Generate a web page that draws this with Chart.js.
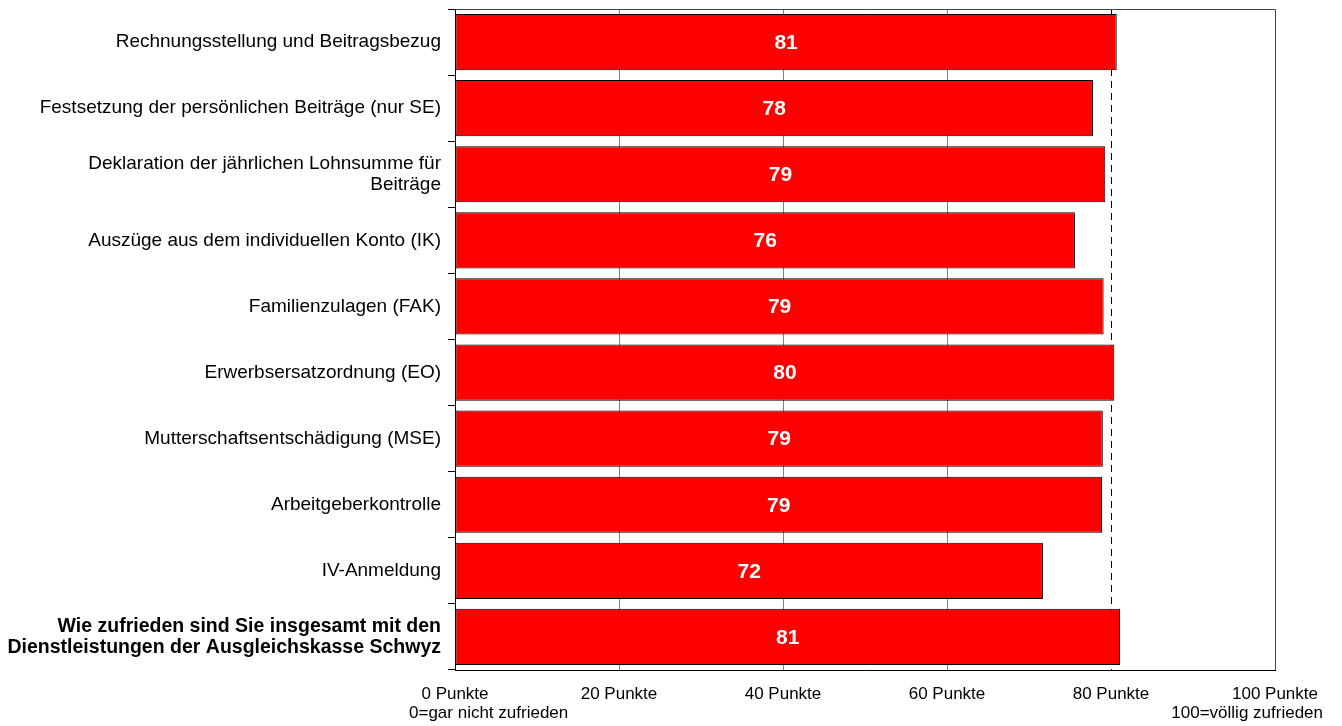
<!DOCTYPE html>
<html>
<head>
<meta charset="utf-8">
<script src="https://cdn.jsdelivr.net/npm/chart.js@4/dist/chart.umd.min.js"></script>
<style>
    body { margin: 0; background: #fff; }
    #wrap { width: 1342px; height: 726px; position: relative; }
</style>
</head>
<body>
<div id="wrap"><canvas id="satisfactionChart"></canvas></div>
<script>
// Zufriedenheit mit den Dienstleistungen
const categories = [
    'Rechnungsstellung und Beitragsbezug',
    'Festsetzung der persönlichen Beiträge (nur SE)',
    ['Deklaration der jährlichen Lohnsumme für', 'Beiträge'],
    'Auszüge aus dem individuellen Konto (IK)',
    'Familienzulagen (FAK)',
    'Erwerbsersatzordnung (EO)',
    'Mutterschaftsentschädigung (MSE)',
    'Arbeitgeberkontrolle',
    'IV-Anmeldung',
    ['Wie zufrieden sind Sie insgesamt mit den', 'Dienstleistungen der Ausgleichskasse Schwyz']
];
const scores = [80.7, 77.8, 79.3, 75.6, 79.1, 80.4, 79.0, 78.9, 71.7, 81.1];
const scoreLabels = ['81', '78', '79', '76', '79', '80', '79', '79', '72', '81'];
const tickValues = [0, 20, 40, 60, 80, 100];
const referenceLine = 80;
const scaleNotes = ['0=gar nicht zufrieden', '100=völlig zufrieden'];

const fontFamily = "'Liberation Sans', Arial, sans-serif";

const extrasPlugin = {
    id: 'extras',
    beforeDatasetsDraw(chart) {
        const ctx = chart.ctx;
        const area = chart.chartArea;
        const x = chart.scales.x;
        const px = Math.round(x.getPixelForValue(referenceLine)) + 0.5;
        ctx.save();
        ctx.strokeStyle = '#000';
        ctx.lineWidth = 1;
        ctx.setLineDash([7, 5]);
        ctx.beginPath();
        ctx.moveTo(px, area.top);
        ctx.lineTo(px, area.bottom);
        ctx.stroke();
        ctx.restore();
    },
    afterDatasetsDraw(chart) {
        const ctx = chart.ctx;
        const area = chart.chartArea;
        const x = chart.scales.x;
        ctx.save();
        // frame top + right
        ctx.strokeStyle = '#444';
        ctx.lineWidth = 1;
        ctx.beginPath();
        ctx.moveTo(area.left, Math.round(area.top) + 0.5);
        ctx.lineTo(Math.round(area.right) + 0.5, Math.round(area.top) + 0.5);
        ctx.lineTo(Math.round(area.right) + 0.5, area.bottom);
        ctx.stroke();

        // value labels
        ctx.fillStyle = '#fff';
        ctx.font = 'bold 21px ' + fontFamily;
        ctx.textAlign = 'center';
        ctx.textBaseline = 'middle';
        chart.getDatasetMeta(0).data.forEach((bar, i) => {
            ctx.fillText(scoreLabels[i], (bar.x + bar.base) / 2, bar.y + 1);
        });

        // notes under the scale ends
        ctx.fillStyle = '#000';
        ctx.font = '17px ' + fontFamily;
        ctx.textAlign = 'left';
        ctx.fillText(scaleNotes[0], x.getPixelForValue(0) - 46, 713);
        ctx.textAlign = 'right';
        ctx.fillText(scaleNotes[1], x.getPixelForValue(100) + 48, 713);
        ctx.restore();
    }
};

const satisfactionctx = document.getElementById('satisfactionChart').getContext('2d');
const satisfactionChart = new Chart(satisfactionctx, {
    type: 'bar',
    data: {
        labels: categories,
        datasets: [{
            data: scores,
            backgroundColor: '#FF0000',
            borderColor: '#000',
            borderWidth: 1,
            borderSkipped: false,
            categoryPercentage: 1,
            barPercentage: 0.85
        }]
    },
    options: {
        indexAxis: 'y',
        responsive: true,
        maintainAspectRatio: false,
        animation: false,
        layout: {
            padding: { top: 9, right: 67, bottom: 0, left: 0 }
        },
        plugins: {
            legend: { display: false },
            tooltip: { enabled: false }
        },
        scales: {
            x: {
                min: 0,
                max: 100,
                afterBuildTicks: scale => {
                    scale.ticks = tickValues.map(v => ({ value: v }));
                },
                afterFit: scale => {
                    scale.height = 56;
                    scale.paddingLeft = 0;
                    scale.paddingRight = 0;
                },
                ticks: {
                    callback: v => v + ' Punkte',
                    color: '#000',
                    font: { family: fontFamily, size: 17 },
                    padding: 14,
                    maxRotation: 0
                },
                grid: {
                    drawTicks: false,
                    color: ctx => {
                        const v = ctx.tick ? ctx.tick.value : 0;
                        return (v > 0 && v < 100 && v !== referenceLine) ? '#808080' : 'rgba(0,0,0,0)';
                    }
                },
                border: { display: true, color: '#000' }
            },
            y: {
                afterFit: scale => {
                    scale.width = 455;
                    scale.paddingTop = 0;
                    scale.paddingBottom = 0;
                },
                ticks: {
                    color: '#000',
                    padding: 7,
                    font: ctx => ({
                        family: fontFamily,
                        size: ctx.index === 9 ? 19.5 : 19,
                        weight: ctx.index === 9 ? 'bold' : 'normal',
                        lineHeight: 1.08
                    })
                },
                grid: {
                    offset: true,
                    drawOnChartArea: false,
                    tickLength: 7,
                    color: '#000'
                },
                border: { display: true, color: '#000' }
            }
        }
    },
    plugins: [extrasPlugin]
});
</script>
</body>
</html>
